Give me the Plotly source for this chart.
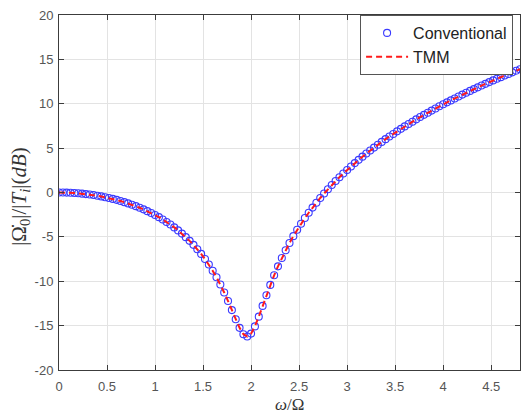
import plotly.graph_objects as go

# Normalised frequency omega/Omega
omega = [0.00, 0.04, 0.08, 0.12, 0.16, 0.20, 0.24, 0.28, 0.32, 0.36,
         0.40, 0.44, 0.48, 0.52, 0.56, 0.60, 0.64, 0.68, 0.72, 0.76,
         0.80, 0.84, 0.88, 0.92, 0.96, 1.00, 1.04, 1.08, 1.12, 1.16,
         1.20, 1.24, 1.28, 1.32, 1.36, 1.40, 1.44, 1.48, 1.52, 1.56,
         1.60, 1.64, 1.68, 1.72, 1.76, 1.80, 1.84, 1.88, 1.92, 1.96,
         2.00, 2.04, 2.08, 2.12, 2.16, 2.20, 2.24, 2.28, 2.32, 2.36,
         2.40, 2.44, 2.48, 2.52, 2.56, 2.60, 2.64, 2.68, 2.72, 2.76,
         2.80, 2.84, 2.88, 2.92, 2.96, 3.00, 3.04, 3.08, 3.12, 3.16,
         3.20, 3.24, 3.28, 3.32, 3.36, 3.40, 3.44, 3.48, 3.52, 3.56,
         3.60, 3.64, 3.68, 3.72, 3.76, 3.80, 3.84, 3.88, 3.92, 3.96,
         4.00, 4.04, 4.08, 4.12, 4.16, 4.20, 4.24, 4.28, 4.32, 4.36,
         4.40, 4.44, 4.48, 4.52, 4.56, 4.60, 4.64, 4.68, 4.72, 4.76, 4.80]

# |Omega_0|/|T_i| in dB
conventional_db = [0.00, -0.00, -0.01, -0.03, -0.06, -0.09, -0.13, -0.18, -0.23, -0.29,
                   -0.36, -0.44, -0.53, -0.62, -0.72, -0.83, -0.96, -1.09, -1.23, -1.38,
                   -1.54, -1.72, -1.90, -2.10, -2.31, -2.54, -2.78, -3.04, -3.32, -3.61,
                   -3.93, -4.27, -4.63, -5.03, -5.45, -5.90, -6.39, -6.92, -7.50, -8.12,
                   -8.81, -9.55, -10.37, -11.26, -12.23, -13.25, -14.29, -15.25, -15.97, -16.22,
                   -15.90, -15.09, -13.99, -12.78, -11.57, -10.41, -9.33, -8.32, -7.38, -6.50,
                   -5.69, -4.92, -4.20, -3.52, -2.88, -2.28, -1.70, -1.15, -0.62, -0.11,
                   0.37, 0.84, 1.29, 1.72, 2.14, 2.54, 2.93, 3.31, 3.68, 4.04,
                   4.39, 4.73, 5.06, 5.38, 5.70, 6.01, 6.31, 6.60, 6.89, 7.17,
                   7.45, 7.72, 7.98, 8.24, 8.50, 8.75, 8.99, 9.23, 9.47, 9.71,
                   9.94, 10.16, 10.38, 10.60, 10.82, 11.03, 11.24, 11.45, 11.65, 11.85,
                   12.05, 12.24, 12.44, 12.63, 12.82, 13.00, 13.18, 13.36, 13.54, 13.72, 13.89]

# TMM result overlaps the conventional one at the picture's resolution
tmm_db = list(conventional_db)

x_ticks = [0, 0.5, 1, 1.5, 2, 2.5, 3, 3.5, 4, 4.5]
x_ticklabels = ["0", "0.5", "1", "1.5", "2", "2.5", "3", "3.5", "4", "4.5"]
y_ticks = [-20, -15, -10, -5, 0, 5, 10, 15, 20]
y_ticklabels = ["-20", "-15", "-10", "-5", "0", "5", "10", "15", "20"]

fig = go.Figure()
fig.add_trace(go.Scatter(
    x=omega, y=conventional_db, mode="markers", name="Conventional",
    marker=dict(symbol="circle-open", size=7, color="#3a3aff",
                line=dict(width=1.1, color="#3a3aff")),
    legendgroup="a",
))
fig.add_trace(go.Scatter(
    x=omega, y=tmm_db, mode="lines", name="TMM",
    line=dict(color="#ff1a1a", width=2, dash="6px,4px"),
    legendgroup="b",
))

axis_common = dict(
    showgrid=True, gridcolor="#e3e3e3", gridwidth=1,
    showline=True, linecolor="#3c3c3c", linewidth=1, mirror="ticks",
    ticks="inside", ticklen=5, tickcolor="#3c3c3c", tickwidth=1,
    zeroline=False,
    tickfont=dict(family="Liberation Sans, Arial, sans-serif", size=13, color="#555555"),
)

fig.update_layout(
    width=529, height=414,
    margin=dict(l=59, r=8, t=10, b=44),
    paper_bgcolor="white", plot_bgcolor="white",
    xaxis=dict(range=[0, 4.8], tickvals=x_ticks, ticktext=x_ticklabels,
               ticklabelstandoff=4, **axis_common),
    yaxis=dict(range=[-20, 20], tickvals=y_ticks, ticktext=y_ticklabels,
               ticklabelstandoff=2, **axis_common),
    showlegend=True,
    legend=dict(
        x=0.985, xanchor="right", y=1.0, yanchor="top",
        bgcolor="white", bordercolor="#555555", borderwidth=1,
        font=dict(family="Liberation Sans, Arial, sans-serif", size=16, color="#222222"),
        tracegroupgap=0, traceorder="grouped", itemwidth=42,
    ),
)

fig.add_annotation(
    text="<i>ω</i>/Ω", xref="paper", yref="paper",
    x=0.5, y=-0.097, xanchor="center", yanchor="middle", showarrow=False,
    font=dict(family="Liberation Serif, DejaVu Serif, serif", size=17, color="#333333"),
)
fig.add_annotation(
    text="|Ω̇<sub>0</sub>|/|<i>T<sub>i</sub></i>|(<i>dB</i>)", xref="paper", yref="paper",
    x=-0.085, y=0.49, xanchor="center", yanchor="middle", showarrow=False, textangle=-90,
    font=dict(family="Liberation Serif, DejaVu Serif, serif", size=21, color="#333333"),
)

fig.write_html("out.html")
